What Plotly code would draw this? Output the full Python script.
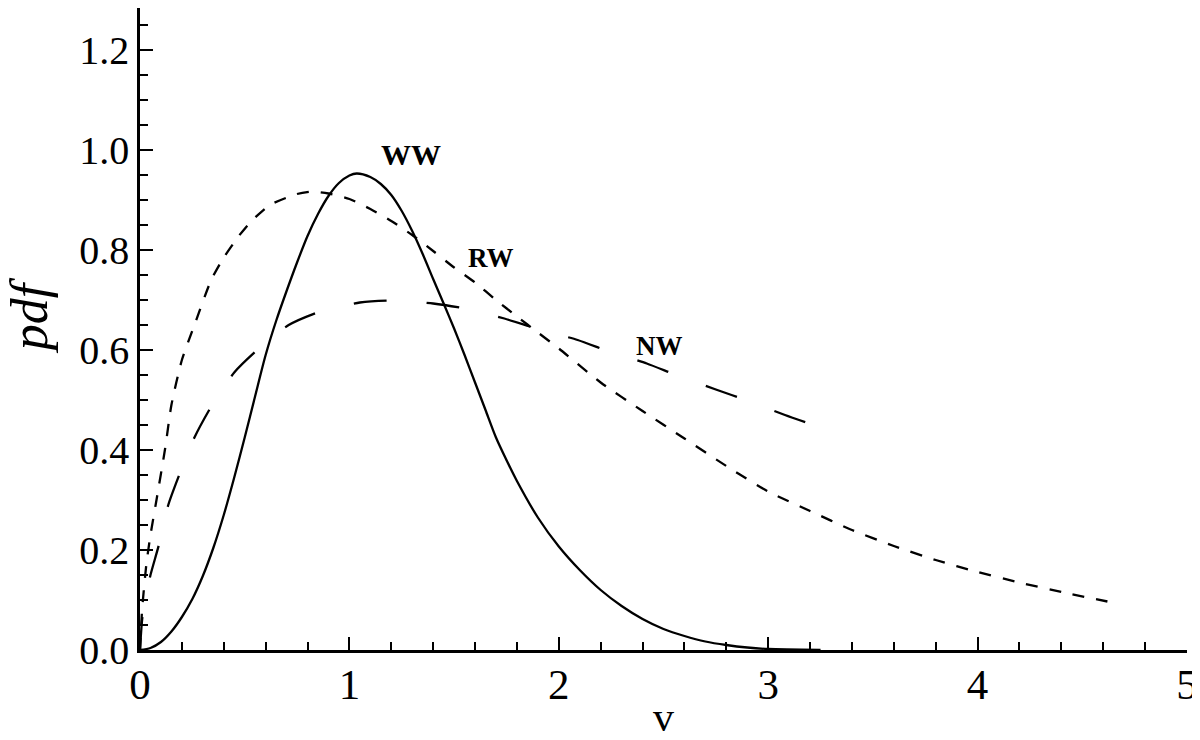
import plotly.graph_objects as go

# WW (solid)
ww_x = [0, 0.05, 0.1, 0.15, 0.2, 0.25, 0.3, 0.35, 0.4, 0.45, 0.5, 0.55, 0.6, 0.65, 0.7, 0.75,
        0.8, 0.85, 0.9, 0.95, 1.0, 1.035, 1.1, 1.15, 1.2, 1.25, 1.3, 1.35, 1.4, 1.45, 1.5, 1.55,
        1.6, 1.65, 1.7, 1.75, 1.8, 1.9, 2.0, 2.1, 2.2, 2.3, 2.4, 2.5, 2.6, 2.7, 2.8, 2.9, 3.0, 3.25]
ww_y = [0, 0.004, 0.016, 0.037, 0.066, 0.102, 0.148, 0.204, 0.27, 0.345, 0.425, 0.508, 0.59,
        0.658, 0.718, 0.775, 0.828, 0.872, 0.908, 0.934, 0.949, 0.953, 0.946, 0.932, 0.91, 0.878,
        0.838, 0.792, 0.742, 0.693, 0.643, 0.59, 0.535, 0.48, 0.425, 0.38, 0.338, 0.265, 0.207,
        0.16, 0.12, 0.088, 0.062, 0.042, 0.028, 0.017, 0.01, 0.005, 0.002, 0.0]

# RW (short dash)
rw_x = [0, 0.01, 0.03, 0.05, 0.08, 0.12, 0.15, 0.2, 0.26, 0.34, 0.4, 0.47, 0.53, 0.62, 0.75,
        0.82, 0.9, 1.0, 1.1, 1.2, 1.3, 1.4, 1.5, 1.6, 1.7, 1.8, 1.9, 2.0, 2.2, 2.4, 2.6, 2.8,
        3.0, 3.2, 3.4, 3.6, 3.8, 4.0, 4.2, 4.4, 4.62]
rw_y = [0, 0.08, 0.17, 0.23, 0.303, 0.403, 0.49, 0.58, 0.65, 0.74, 0.785, 0.827, 0.857, 0.89,
        0.912, 0.917, 0.913, 0.902, 0.882, 0.858, 0.83, 0.798, 0.765, 0.735, 0.70, 0.667, 0.635,
        0.603, 0.535, 0.478, 0.423, 0.368, 0.317, 0.278, 0.24, 0.208, 0.18, 0.156, 0.135, 0.116,
        0.097]

# NW (long dash)
nw_x = [0, 0.01, 0.03, 0.05, 0.09, 0.135, 0.19, 0.26, 0.34, 0.45, 0.56, 0.71, 0.86, 1.05, 1.2,
        1.4, 1.55, 1.74, 1.9, 2.09, 2.24, 2.42, 2.56, 2.75, 2.9, 3.08, 3.23]
nw_y = [0, 0.06, 0.11, 0.15, 0.21, 0.29, 0.353, 0.425, 0.487, 0.555, 0.60, 0.65, 0.677, 0.695,
        0.699, 0.693, 0.683, 0.663, 0.642, 0.62, 0.597, 0.573, 0.55, 0.521, 0.499, 0.47, 0.448]

y_ticks = [0, 0.2, 0.4, 0.6, 0.8, 1.0, 1.2]
y_labels = ["0.0", "0.2", "0.4", "0.6", "0.8", "1.0", "1.2"]
x_ticks = [0, 1, 2, 3, 4, 5]
x_labels = ["0", "1", "2", "3", "4", "5"]

FONT = "Liberation Serif, Times New Roman, serif"

fig = go.Figure()
fig.add_trace(go.Scatter(x=ww_x, y=ww_y, mode="lines", name="WW",
                         line=dict(color="black", width=2.3, shape="spline", smoothing=0.8)))
fig.add_trace(go.Scatter(x=rw_x, y=rw_y, mode="lines", name="RW",
                         line=dict(color="black", width=2.3, dash="12px,12px", shape="spline", smoothing=0.6)))
fig.add_trace(go.Scatter(x=nw_x, y=nw_y, mode="lines", name="NW",
                         line=dict(color="black", width=2.3, dash="33px,40px", shape="spline", smoothing=0.6)))

fig.add_annotation(x=1.292, y=0.992, text="<b>WW</b>", showarrow=False,
                   font=dict(family=FONT, size=30, color="black"))
fig.add_annotation(x=1.678, y=0.784, text="<b>RW</b>", showarrow=False,
                   font=dict(family=FONT, size=27, color="black"))
fig.add_annotation(x=2.479, y=0.608, text="<b>NW</b>", showarrow=False,
                   font=dict(family=FONT, size=27, color="black"))
# axis titles
fig.add_annotation(xref="paper", yref="paper", x=-0.106, y=0.52, text="<i>pdf</i>",
                   textangle=-90, showarrow=False, xanchor="center", yanchor="middle",
                   font=dict(family=FONT, size=52, color="black"))
fig.add_annotation(xref="paper", yref="paper", x=0.5, y=-0.104, text="v",
                   showarrow=False, xanchor="center", yanchor="middle",
                   font=dict(family=FONT, size=42, color="black"))

fig.update_layout(
    width=1192, height=732,
    margin=dict(l=132, r=13, t=0, b=90),
    paper_bgcolor="white", plot_bgcolor="white",
    showlegend=False,
    font=dict(family=FONT, color="black"),
)
fig.update_xaxes(
    range=[0, 5], showgrid=False, zeroline=False, automargin=False,
    showline=True, linecolor="black", linewidth=2.5, layer="above traces",
    tickvals=x_ticks, ticktext=x_labels, ticks="inside", ticklen=13, tickwidth=2, tickcolor="black",
    tickfont=dict(family=FONT, size=43, color="black"), ticklabelstandoff=-5,
    ticklabeloverflow="allow",
    minor=dict(dtick=0.2, ticks="inside", ticklen=8, tickwidth=2, tickcolor="black"),
)
fig.update_yaxes(
    range=[0, 1.284], showgrid=False, zeroline=False, automargin=False,
    showline=True, linecolor="black", linewidth=2.5, layer="above traces",
    tickvals=y_ticks, ticktext=y_labels, ticks="inside", ticklen=13, tickwidth=2, tickcolor="black",
    tickfont=dict(family=FONT, size=40, color="black"),
    minor=dict(dtick=0.05, ticks="inside", ticklen=8, tickwidth=2, tickcolor="black"),
)

fig.write_html("out.html")
